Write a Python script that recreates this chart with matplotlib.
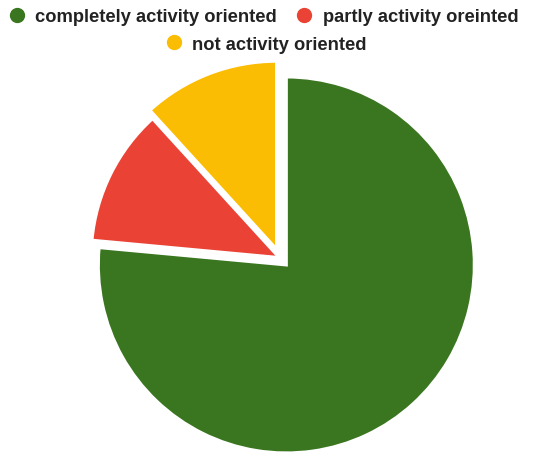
import matplotlib
matplotlib.use("Agg")
import matplotlib.pyplot as plt
from matplotlib.lines import Line2D

# data
labels = ["completely activity oriented", "partly activity oreinted", "not activity oriented"]
values = [13, 2, 2]
colors = ["#3a7620", "#ea4335", "#fbbc04"]

plt.rcParams['font.family'] = ['Liberation Sans', 'DejaVu Sans']

fig = plt.figure(figsize=(5.51, 4.56), dpi=100)
ax = fig.add_axes([0, 0, 1, 1])

# pie centre / radius in pixels
cx, cy, r = 280, 259, 188
W, H = 551, 456

ax.pie(values, colors=colors, startangle=90, counterclock=False,
       explode=[0.05, 0.005, 0.05], radius=1,
       wedgeprops=dict(edgecolor="white", linewidth=2.2))
ax.set_aspect("auto")
ax.set_xlim(-cx / r, (W - cx) / r)
ax.set_ylim((cy - H) / r, cy / r)
ax.axis("off")

def handle(c):
    return Line2D([], [], marker="o", linestyle="none", markersize=10,
                  markerfacecolor=c, markeredgecolor=c)

leg_kw = dict(frameon=False, handletextpad=0.5, columnspacing=1.0,
              handlelength=1.0, borderaxespad=0,
              prop=dict(weight="bold", size=13.2))
leg1 = fig.legend([handle(colors[0]), handle(colors[1])], labels[:2], ncol=2,
                  loc="center", bbox_to_anchor=(0.477, 1 - 18 / H), **leg_kw)
for t in leg1.get_texts():
    t.set_color("#222222")
leg2 = fig.legend([handle(colors[2])], labels[2:], ncol=1,
                  loc="center", bbox_to_anchor=(0.482, 1 - 45 / H), **leg_kw)
for t in leg2.get_texts():
    t.set_color("#222222")

fig.savefig("out.png", dpi=100)
